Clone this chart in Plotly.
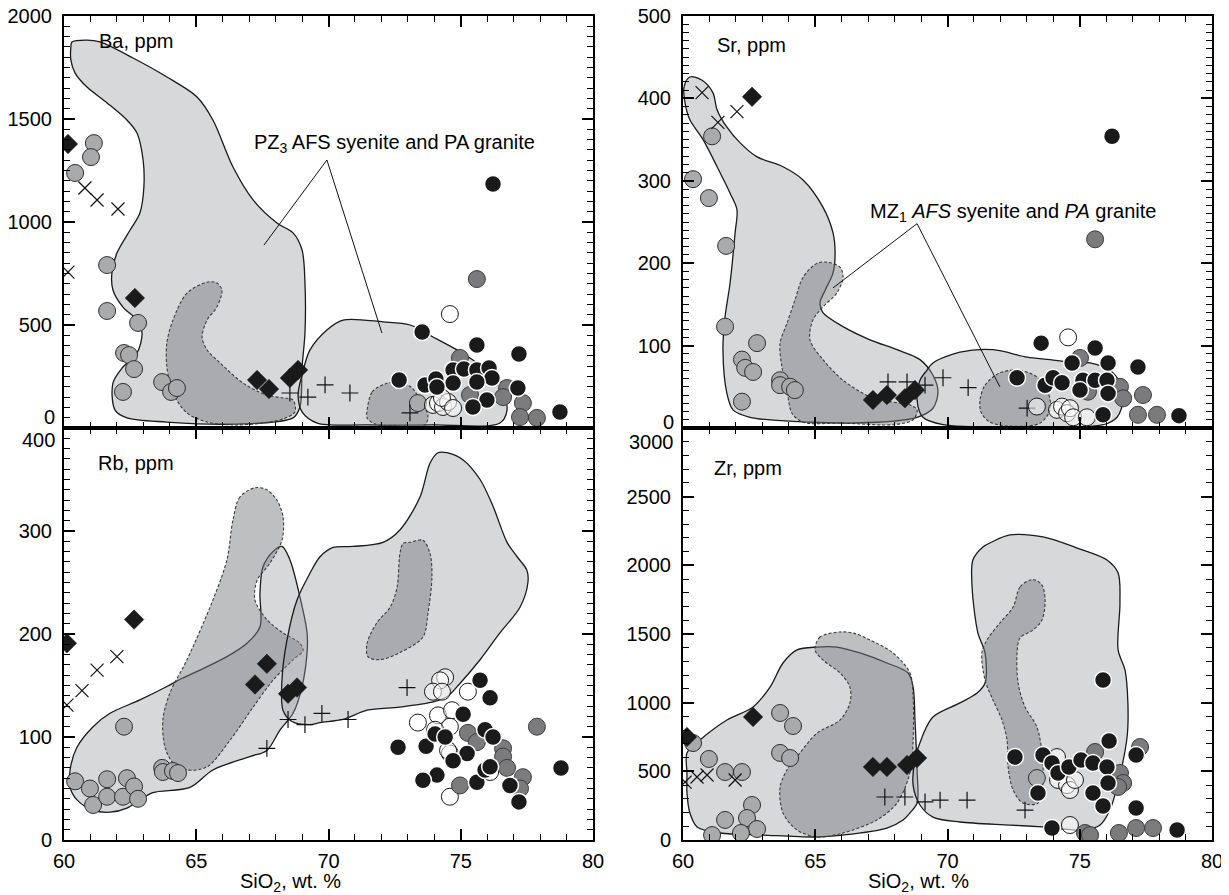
import plotly.graph_objects as go

# ---------------- Ba, ppm (top left) ----------------
ba_diamond_x = [60.15, 62.68, 67.30, 67.75, 68.54, 68.85]
ba_diamond_y = [1379, 631, 233, 189, 243, 282]
ba_xcross_x = [60.79, 61.25, 62.04, 60.15]
ba_xcross_y = [1165, 1107, 1063, 757]
ba_plus_x = [68.54, 69.22, 69.87, 70.81, 73.08]
ba_plus_y = [170, 150, 209, 170, 73]
ba_lgray_x = [61.13, 61.02, 60.42, 61.63, 61.63, 62.80, 62.27, 62.46, 62.65, 62.23, 63.71, 64.05, 64.27, 73.38]
ba_lgray_y = [1383, 1315, 1238, 791, 568, 510, 364, 354, 286, 175, 223, 175, 194, 121]
ba_white_x = [74.59, 73.95, 74.14, 74.33, 74.52, 74.29, 74.71]
ba_white_y = [553, 112, 121, 102, 126, 146, 97]
ba_dgray_x = [75.61, 74.97, 75.35, 76.75, 76.60, 77.35, 77.24, 77.88]
ba_dgray_y = [723, 340, 160, 194, 150, 121, 53, 49]
ba_black_x = [76.22, 73.54, 75.61, 77.20, 72.67, 73.65, 74.06, 74.71, 75.12, 75.61, 76.07, 76.18, 75.61, 74.71, 74.10, 77.16, 75.99, 75.46, 78.75]
ba_black_y = [1184, 466, 403, 359, 233, 209, 238, 282, 286, 282, 291, 243, 223, 218, 199, 194, 136, 102, 78]

ba_syen_x = [60.30, 60.87, 61.36, 62.61, 63.89, 65.03, 65.63, 66.39, 67.15, 68.05, 68.66, 69.00, 69.11, 69.11, 69.00, 68.92, 68.66, 66.39, 63.89, 62.38, 61.93, 61.85, 62.23, 62.76, 62.95, 62.76, 62.23, 61.85, 61.81, 62.00, 62.50, 62.87, 63.02, 62.99, 62.76, 62.38, 61.63, 60.87, 60.42, 60.26, 60.26]
ba_syen_y = [1874, 1883, 1874, 1796, 1704, 1607, 1495, 1267, 1107, 995, 947, 864, 704, 461, 296, 102, 49, 19, 29, 49, 87, 218, 296, 364, 461, 524, 587, 670, 752, 849, 961, 1044, 1170, 1301, 1432, 1495, 1578, 1655, 1723, 1786, 1849]
ba_syen_core_x = [65.44, 64.65, 64.12, 63.89, 63.89, 64.12, 64.65, 65.41, 66.39, 67.52, 68.28, 68.73, 68.66, 68.28, 67.67, 66.77, 65.90, 65.41, 65.22, 65.41, 65.78, 65.97, 65.78]
ba_syen_core_y = [709, 655, 524, 413, 296, 170, 73, 29, 15, 24, 44, 78, 136, 146, 160, 218, 316, 379, 442, 524, 587, 670, 704]
ba_gran_x = [70.55, 72.06, 73.08, 73.95, 74.86, 75.46, 75.99, 76.37, 76.60, 76.75, 76.48, 73.95, 71.46, 69.57, 69.00, 68.85, 69.00, 69.30, 69.94]
ba_gran_y = [524, 515, 500, 442, 379, 330, 282, 248, 184, 87, 24, 15, 15, 24, 78, 160, 257, 379, 476]
ba_gran_core_x = [71.46, 71.65, 72.14, 72.70, 73.16, 73.46, 73.76, 73.65, 72.70, 71.76, 71.46]
ba_gran_core_y = [87, 175, 214, 223, 194, 136, 63, 15, 10, 19, 49]
ba_leader_x = [67.56, 69.94, 72.02]
ba_leader_y = [888, 1301, 461]

# ---------------- Sr, ppm (top right) ----------------
sr_diamond_x = [62.61, 67.18, 67.71, 68.39, 68.77]
sr_diamond_y = [402, 34, 40, 36, 46]
sr_xcross_x = [60.72, 61.32, 62.04]
sr_xcross_y = [407, 371, 384]
sr_plus_x = [67.75, 68.47, 69.15, 69.83, 70.78, 73.01]
sr_plus_y = [56, 56, 52, 61, 49, 24]
sr_lgray_x = [61.10, 60.38, 60.98, 61.63, 61.59, 62.80, 62.23, 62.35, 62.65, 63.67, 63.67, 64.05, 64.23, 62.23]
sr_lgray_y = [354, 302, 279, 221, 123, 103, 83, 73, 68, 58, 52, 50, 46, 32]
sr_white_x = [74.56, 73.38, 74.14, 74.33, 74.52, 74.63, 74.75, 75.27]
sr_white_y = [110, 26, 22, 26, 18, 24, 13, 13]
sr_dgray_x = [75.58, 75.01, 75.31, 76.52, 76.64, 77.39, 77.20, 77.92]
sr_dgray_y = [229, 85, 44, 50, 36, 40, 16, 16]
sr_black_x = [76.22, 73.54, 75.58, 76.07, 77.20, 74.71, 72.63, 73.69, 73.99, 74.33, 75.12, 75.58, 76.03, 75.01, 76.07, 75.88, 78.75]
sr_black_y = [354, 103, 97, 79, 74, 79, 61, 52, 61, 55, 58, 58, 58, 46, 42, 16, 15]

sr_syen_x = [60.26, 60.72, 61.13, 61.29, 61.66, 62.16, 62.80, 63.78, 64.54, 65.29, 65.67, 65.75, 65.67, 65.37, 65.18, 65.29, 66.05, 67.07, 68.09, 68.96, 69.45, 69.64, 69.45, 68.85, 67.33, 64.80, 62.53, 61.89, 61.66, 61.51, 61.59, 61.78, 61.97, 62.04, 61.78, 61.29, 60.76, 60.26, 60.08, 60.04]
sr_syen_y = [426, 422, 407, 386, 365, 346, 329, 317, 301, 268, 237, 212, 188, 167, 152, 140, 123, 107, 95, 83, 64, 44, 24, 13, 7, 7, 13, 22, 42, 95, 135, 176, 237, 265, 285, 317, 350, 374, 394, 414]
sr_syen_core_x = [65.48, 65.07, 64.54, 64.23, 63.93, 63.67, 63.74, 63.93, 64.12, 64.54, 66.05, 67.94, 68.70, 68.85, 68.58, 67.83, 67.07, 66.05, 65.29, 64.80, 64.91, 65.29, 65.82, 66.05, 65.94]
sr_syen_core_y = [201, 200, 183, 155, 127, 103, 74, 46, 18, 7, 6, 4, 10, 22, 28, 32, 38, 58, 83, 107, 131, 147, 164, 183, 195]
sr_gran_x = [69.45, 70.47, 71.72, 73.01, 73.88, 74.63, 75.39, 76.14, 76.52, 76.64, 76.41, 75.88, 72.36, 69.83, 69.07, 68.85, 68.96, 69.22]
sr_gran_y = [79, 92, 95, 86, 83, 80, 79, 70, 55, 34, 13, 4, 1, 4, 13, 34, 58, 70]
sr_gran_core_x = [71.23, 71.42, 71.98, 72.74, 73.42, 73.80, 73.88, 73.50, 72.55, 71.61, 71.27]
sr_gran_core_y = [34, 52, 67, 70, 61, 44, 22, 6, 2, 7, 19]
sr_leader_x = [65.67, 68.85, 71.98]
sr_leader_y = [170, 248, 50]

# ---------------- Rb, ppm (bottom left) ----------------
rb_diamond_x = [60.11, 62.65, 67.22, 67.67, 68.47, 68.81]
rb_diamond_y = [191, 214, 151, 171, 142, 148]
rb_xcross_x = [60.11, 60.68, 61.25, 62.00]
rb_xcross_y = [131, 145, 165, 178]
rb_plus_x = [67.67, 68.47, 69.11, 69.75, 70.74, 72.97]
rb_plus_y = [89, 117, 112, 123, 117, 148]
rb_lgray_x = [62.27, 60.42, 60.98, 61.63, 61.10, 61.63, 62.38, 62.23, 62.65, 62.80, 63.71, 63.74, 64.12, 64.31]
rb_lgray_y = [110, 57, 50, 59, 34, 42, 60, 42, 52, 40, 70, 66, 67, 65]
rb_white_x = [74.41, 74.22, 73.95, 74.29, 75.27, 74.14, 74.67, 73.38, 74.59, 74.03, 74.59, 74.52, 76.11, 74.59]
rb_white_y = [158, 155, 144, 144, 144, 121, 126, 114, 110, 107, 84, 87, 66, 42]
rb_dgray_x = [77.88, 75.27, 75.61, 76.60, 76.60, 76.75, 74.97, 77.35, 77.24]
rb_dgray_y = [110, 104, 95, 89, 81, 70, 53, 61, 50]
rb_black_x = [75.73, 76.11, 75.09, 72.63, 73.69, 74.03, 74.41, 75.24, 74.71, 75.92, 76.22, 74.10, 73.57, 75.61, 75.92, 76.11, 76.86, 77.20, 78.79]
rb_black_y = [155, 138, 122, 90, 91, 103, 100, 84, 77, 107, 100, 63, 58, 56, 68, 71, 53, 37, 70]

rb_syen_x = [60.23, 60.49, 61.10, 61.74, 62.87, 63.89, 64.46, 65.14, 66.16, 66.92, 67.41, 67.41, 67.52, 67.90, 68.24, 68.54, 68.92, 69.19, 69.19, 69.00, 68.66, 68.17, 67.67, 67.03, 65.63, 64.76, 63.36, 62.87, 62.38, 61.74, 61.10, 60.49, 60.23]
rb_syen_y = [68, 90, 110, 123, 136, 149, 157, 165, 178, 191, 207, 240, 265, 280, 285, 272, 236, 201, 182, 149, 123, 107, 87, 81, 68, 51, 46, 39, 31, 27, 29, 39, 51]
rb_syen_core_x = [67.22, 66.65, 66.39, 66.16, 65.63, 64.65, 64.01, 63.74, 63.82, 64.12, 64.65, 65.41, 66.28, 67.15, 67.90, 68.66, 69.04, 68.92, 68.28, 67.67, 67.22, 67.30, 67.79, 68.24, 68.28, 68.05, 67.67]
rb_syen_core_y = [342, 333, 311, 272, 233, 175, 143, 117, 90, 75, 68, 71, 97, 129, 155, 175, 184, 191, 201, 214, 233, 252, 269, 291, 314, 330, 340]
rb_gran_x = [69.68, 69.30, 68.81, 68.43, 68.24, 68.28, 68.62, 69.30, 69.68, 70.55, 71.46, 72.70, 73.95, 74.48, 74.97, 75.73, 76.48, 77.24, 77.54, 77.50, 77.13, 76.75, 76.22, 75.73, 75.09, 74.48, 74.14, 73.84, 73.46, 72.70, 72.06, 70.93, 70.17]
rb_gran_y = [275, 259, 233, 194, 155, 126, 115, 112, 114, 117, 126, 129, 134, 139, 152, 175, 201, 226, 250, 262, 275, 289, 324, 350, 369, 376, 376, 366, 333, 301, 289, 285, 284]
rb_gran_core_x = [73.08, 73.57, 73.84, 73.91, 73.76, 73.57, 72.70, 71.95, 71.49, 71.46, 71.83, 72.33, 72.59, 72.70, 72.82]
rb_gran_core_y = [289, 291, 278, 255, 220, 197, 182, 175, 178, 191, 211, 226, 245, 278, 288]

# ---------------- Zr, ppm (bottom right) ----------------
zr_diamond_x = [60.15, 62.65, 67.18, 67.71, 68.47, 68.85]
zr_diamond_y = [750, 896, 532, 532, 546, 597]
zr_xcross_x = [60.08, 60.53, 60.91, 61.97]
zr_xcross_y = [422, 459, 473, 437]
zr_plus_x = [67.63, 68.39, 69.15, 69.72, 70.74, 72.93]
zr_plus_y = [313, 313, 277, 291, 291, 218]
zr_lgray_x = [60.38, 60.98, 61.59, 62.23, 63.67, 64.16, 63.67, 64.05, 62.61, 61.59, 62.42, 62.80, 62.19, 61.10, 73.38]
zr_lgray_y = [706, 590, 495, 495, 925, 830, 634, 597, 255, 146, 160, 80, 51, 36, 451]
zr_white_x = [74.14, 74.18, 74.52, 74.63, 74.82, 74.63]
zr_white_y = [604, 437, 400, 364, 437, 109]
zr_dgray_x = [77.28, 75.58, 76.52, 76.64, 76.45, 75.20, 75.39, 76.48, 77.13, 77.77]
zr_dgray_y = [677, 641, 488, 415, 386, 51, 36, 51, 87, 87]
zr_black_x = [75.88, 76.11, 72.55, 73.61, 73.95, 74.18, 74.59, 75.05, 75.50, 76.03, 76.07, 73.42, 75.50, 75.88, 77.13, 77.13, 73.95, 78.68]
zr_black_y = [1165, 721, 604, 619, 561, 488, 532, 583, 561, 532, 415, 342, 342, 248, 619, 233, 87, 73]

zr_syen_x = [60.15, 60.64, 61.66, 62.65, 63.29, 63.78, 64.31, 65.07, 65.82, 66.69, 67.71, 68.51, 68.70, 68.77, 68.85, 68.85, 68.58, 68.32, 67.71, 66.05, 65.00, 63.02, 61.40, 60.53, 60.26, 60.15, 60.15]
zr_syen_y = [634, 728, 874, 969, 1114, 1289, 1384, 1405, 1405, 1362, 1289, 1216, 1114, 874, 510, 269, 197, 146, 87, 36, 22, 36, 51, 95, 197, 342, 488]
zr_syen_core_x = [65.94, 65.18, 64.99, 65.29, 65.94, 66.31, 66.31, 65.94, 65.07, 64.42, 63.93, 63.67, 63.78, 64.31, 65.07, 66.05, 67.33, 68.09, 68.58, 68.70, 68.70, 68.58, 67.94, 67.07, 66.43]
zr_syen_core_y = [1515, 1478, 1384, 1311, 1216, 1114, 998, 874, 779, 634, 510, 386, 197, 73, 22, 51, 146, 269, 488, 728, 1041, 1216, 1362, 1456, 1507]
zr_gran_x = [71.68, 72.36, 73.61, 74.90, 76.03, 76.45, 76.52, 76.45, 76.71, 76.82, 76.79, 76.41, 76.14, 75.77, 75.12, 73.61, 72.36, 70.47, 69.45, 68.96, 68.70, 68.77, 69.07, 69.45, 70.47, 71.12, 71.42, 71.42, 71.15, 70.93, 70.96, 71.34]
zr_gran_y = [2170, 2221, 2207, 2126, 2039, 1944, 1726, 1384, 1238, 998, 750, 386, 218, 109, 73, 95, 109, 131, 167, 255, 400, 583, 765, 896, 998, 1070, 1143, 1362, 1507, 1842, 2039, 2134]
zr_gran_core_x = [73.12, 72.74, 72.48, 71.98, 71.49, 71.30, 71.42, 71.72, 72.06, 72.25, 72.29, 72.48, 72.85, 73.42, 73.61, 73.57, 73.38, 72.93, 72.67, 72.63, 72.74, 73.23, 73.57, 73.69, 73.57, 73.31]
zr_gran_core_y = [1893, 1842, 1697, 1580, 1456, 1362, 1165, 1019, 874, 728, 532, 364, 269, 269, 415, 634, 823, 969, 1143, 1362, 1471, 1529, 1602, 1748, 1857, 1893]

# ---------------- axes / labels ----------------
x_ticks = [60, 65, 70, 75, 80]
ba_ticks = [0, 500, 1000, 1500, 2000]
sr_ticks = [0, 100, 200, 300, 400, 500]
rb_ticks = [0, 100, 200, 300, 400]
zr_ticks = [0, 500, 1000, 1500, 2000, 2500, 3000]

FONT = "Liberation Sans, Arial, Helvetica, sans-serif"
fig = go.Figure()

LIGHT_FILL = "rgba(150,152,158,0.38)"
DARK_FILL = "rgba(120,121,126,0.48)"


def ax_ids(i):
    return ("x" if i == 1 else f"x{i}", "y" if i == 1 else f"y{i}")


def polygon(xs, ys, i, core=False):
    xa, ya = ax_ids(i)
    fig.add_trace(go.Scatter(
        x=list(xs) + [xs[0]], y=list(ys) + [ys[0]], mode="lines", fill="toself",
        fillcolor=DARK_FILL if core else LIGHT_FILL,
        line=dict(color="#3a3a3a" if core else "#1a1a1a", width=1.1 if core else 1.3,
                  dash="3px,2px" if core else "solid", shape="spline", smoothing=0.9),
        xaxis=xa, yaxis=ya, showlegend=False, hoverinfo="skip"))


def markers(xs, ys, i, kind):
    xa, ya = ax_ids(i)
    styles = {
        "lgray": dict(symbol="circle", size=17, color="#a9aaac", line=dict(color="#2e2e2e", width=1)),
        "white": dict(symbol="circle", size=17, color="rgba(255,255,255,0.55)", line=dict(color="#1a1a1a", width=1)),
        "dgray": dict(symbol="circle", size=17, color="#7b7b7d", line=dict(color="#3c3c3c", width=1)),
        "black": dict(symbol="circle", size=17, color="#1a1a1a", line=dict(color="white", width=1.5)),
        "diamond": dict(symbol="diamond", size=15, color="#1a1a1a", line=dict(color="#1a1a1a", width=0.5)),
        "xcross": dict(symbol="x-thin-open", size=13, color="#111", line=dict(color="#111", width=1.2)),
        "plus": dict(symbol="cross-thin-open", size=12, color="#111", line=dict(color="#111", width=1.2)),
    }
    fig.add_trace(go.Scatter(x=xs, y=ys, mode="markers", marker=styles[kind],
                             xaxis=xa, yaxis=ya, showlegend=False, hoverinfo="skip"))


def leader(xs, ys, i):
    xa, ya = ax_ids(i)
    fig.add_trace(go.Scatter(x=xs, y=ys, mode="lines", line=dict(color="#111", width=1),
                             xaxis=xa, yaxis=ya, showlegend=False, hoverinfo="skip"))


panels = [(1, "ba"), (2, "sr"), (3, "rb"), (4, "zr")]
g = globals()
for i, p in panels:
    polygon(g[p + "_syen_x"], g[p + "_syen_y"], i)
    polygon(g[p + "_syen_core_x"], g[p + "_syen_core_y"], i, core=True)
    polygon(g[p + "_gran_x"], g[p + "_gran_y"], i)
    polygon(g[p + "_gran_core_x"], g[p + "_gran_core_y"], i, core=True)

leader(ba_leader_x, ba_leader_y, 1)
leader(sr_leader_x, sr_leader_y, 2)

for i, p in panels:
    for kind in ["lgray", "xcross", "plus", "diamond", "white", "dgray", "black"]:
        markers(g[f"{p}_{kind}_x"], g[f"{p}_{kind}_y"], i, kind)

LX = [0, 0.4608]
RX = [0.5392, 1]
TY = [0.5, 1]
BY = [0, 0.5]


def xaxis(domain, anchor, labels):
    return dict(domain=domain, anchor=anchor, range=[60, 80], tickvals=x_ticks, automargin=False,
                showticklabels=labels, ticks="inside", ticklen=11, tickwidth=1.5,
                tickcolor="black", minor=dict(dtick=1, ticklen=6, ticks="inside", tickwidth=1.3, tickcolor="black"),
                showline=True, linewidth=2, linecolor="black", mirror="ticks", ticklabelstandoff=2,
                ticklabeloverflow="allow",
                showgrid=False, zeroline=False, tickfont=dict(family=FONT, size=20, color="black"))


def yaxis(domain, anchor, rng, ticks, texts, minor):
    return dict(domain=domain, anchor=anchor, range=rng, tickvals=ticks, ticktext=texts, automargin=False,
                ticks="inside", ticklen=11, tickwidth=1.5, tickcolor="black",
                minor=dict(dtick=minor, ticklen=6, ticks="inside", tickwidth=1.3, tickcolor="black"),
                showline=True, linewidth=2, linecolor="black", mirror="ticks",
                showgrid=False, zeroline=False, ticklabelstandoff=6, ticklabeloverflow="allow",
                tickfont=dict(family=FONT, size=20, color="black"))


# the page body adds an 8 px offset, so the figure is 8 px smaller and shifted margins compensate
fig.update_layout(
    width=1221, height=887,
    margin=dict(l=56, r=17, t=8, b=55, autoexpand=False),
    paper_bgcolor="white", plot_bgcolor="white",
    font=dict(family=FONT, size=20, color="black"),
    xaxis=xaxis(LX, "y", False),
    yaxis=yaxis(TY, "x", [0, 2000], ba_ticks, [""] + [str(t) for t in ba_ticks[1:]], 50),
    xaxis2=xaxis(RX, "y2", False),
    yaxis2=yaxis(TY, "x2", [0, 500], sr_ticks, [""] + [str(t) for t in sr_ticks[1:]], 10),
    xaxis3=xaxis(LX, "y3", True),
    yaxis3=yaxis(BY, "x3", [0, 400], rb_ticks, [str(t) for t in rb_ticks[:-1]] + [""], 10),
    xaxis4=xaxis(RX, "y4", True),
    yaxis4=yaxis(BY, "x4", [0, 3000], zr_ticks, [str(t) for t in zr_ticks[:-1]] + [""], 100),
)

ann = []
# shifted boundary tick labels
for xr, yr, val, txt, ys in [("x domain", "y", 0, "0", 11), ("x2 domain", "y2", 0, "0", 6),
                             ("x3 domain", "y3", 400, "400", -12), ("x4 domain", "y4", 3000, "3000", -14)]:
    ann.append(dict(xref=xr, yref=yr, x=0, y=val, text=txt, showarrow=False, xanchor="right",
                    yanchor="middle", xshift=-7, yshift=ys, font=dict(family=FONT, size=20, color="black")))
# element names
for xr, yr, x, y, txt in [("x", "y", 61.25, 1878, "Ba, ppm"), ("x2", "y2", 61.21, 465, "Sr, ppm"),
                          ("x3", "y3", 61.21, 366, "Rb, ppm"), ("x4", "y4", 61.10, 2709, "Zr, ppm")]:
    ann.append(dict(xref=xr, yref=yr, x=x, y=y, text=txt, showarrow=False, xanchor="left",
                    yanchor="middle", font=dict(family=FONT, size=20, color="black")))
# group labels
ann.append(dict(xref="x", yref="y", x=72.48, y=1383, text="PZ<sub>3</sub> AFS syenite and PA granite",
                showarrow=False, xanchor="center", yanchor="middle", font=dict(family=FONT, size=20, color="black")))
ann.append(dict(xref="x2", yref="y2", x=72.48, y=262,
                text="MZ<sub>1</sub> <i>AFS</i> syenite and <i>PA</i> granite",
                showarrow=False, xanchor="center", yanchor="middle", font=dict(family=FONT, size=20, color="black")))
# x titles
for xp in [0.1977, 0.744]:
    ann.append(dict(xref="paper", yref="paper", x=xp, y=-0.051, text="SiO<sub>2</sub>, wt. %",
                    showarrow=False, xanchor="center", yanchor="middle",
                    font=dict(family=FONT, size=20, color="black")))
fig.update_layout(annotations=ann)

fig.write_html("out.html")
